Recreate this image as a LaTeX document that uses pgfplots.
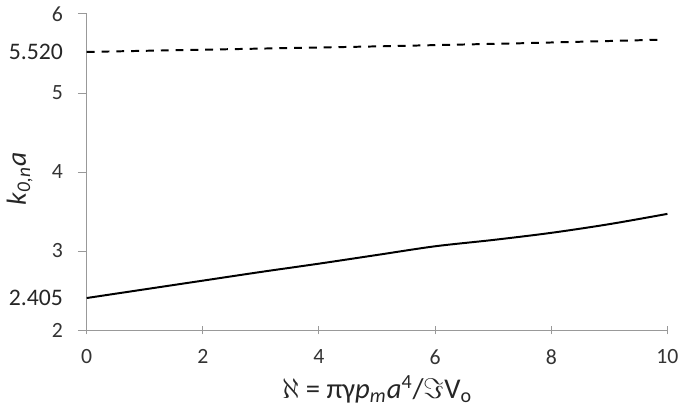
\documentclass[border=0pt]{standalone}
\usepackage{pgfplots}
\pgfplotsset{compat=1.18}
\usepackage{fontspec}
\setmainfont{Carlito}
\begin{document}
\begin{tikzpicture}
\begin{axis}[
  scale only axis,
  width=294pt, height=160pt,
  xmin=0, xmax=10, ymin=2, ymax=6,
  axis lines=left,
  axis line style={-, draw=gray!80},
  xtick={0,2,4,6,8,10},
  ytick={2,3,4,5,6},
  tick style={draw=gray!80, line width=0.5pt},
  major tick length=4.5pt,
  xtick align=center,
  ytick align=outside,
  tick label style={font=\fontsize{11}{13}\selectfont, text=black!80},
  xticklabel style={yshift=-4pt},
  yticklabel style={xshift=-4pt},
  /pgf/number format/assume math mode=true,
  extra y ticks={2.405,5.520},
  extra y tick labels={2.405,5.520},
  extra y tick style={tick style={draw=none}, tick label style={font=\fontsize{12}{14}\selectfont, text=black!85, xshift=0pt}},
  xlabel={$\aleph$ = πγ\textit{p}\textsubscript{\textit{m}}\textit{a}\textsuperscript{4}/$\Im$V\textsubscript{o}},
  xlabel style={font=\fontsize{14.5}{17}\selectfont, text=black!85, at={([yshift=-30pt]axis description cs:0.5,0)}, anchor=center},
  ylabel={\textit{k}\textsubscript{\textit{0,n}}\textit{a}},
  ylabel style={font=\fontsize{14}{17}\selectfont, text=black!85, at={([xshift=-34pt]axis description cs:0,0.478)}, anchor=center},
  clip=false,
]
\addplot[black, line width=1pt, smooth] coordinates {
 (0,2.405) (1,2.515) (2,2.625) (3,2.735) (4,2.84) (5,2.95) (6,3.06) (7,3.14) (8,3.23) (9,3.34) (10,3.47)
};
\addplot[black, line width=1pt, dash pattern=on 4pt off 3.5pt] coordinates {
 (0,5.520) (2.5,5.555) (5,5.59) (7.5,5.63) (9.9,5.675)
};
\end{axis}
\end{tikzpicture}
\end{document}
